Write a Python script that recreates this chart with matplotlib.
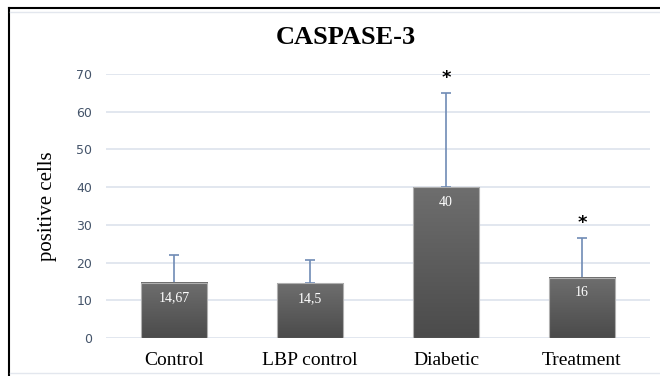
import numpy as np
import matplotlib.pyplot as plt
from matplotlib.lines import Line2D
from matplotlib.colors import LinearSegmentedColormap

# data
groups = ['Control', 'LBP control', 'Diabetic', 'Treatment']
means = [14.67, 14.5, 40, 16]
sd_up = [7.3, 6.3, 25, 10.5]
bar_labels = ['14,67', '14,5', '40', '16']
signif = ['', '', '*', '*']

fig = plt.figure(figsize=(6.6, 3.76), dpi=100)
ax = fig.add_axes([106/660, 1 - 338/376, (650-106)/660, (338-74)/376])

x = np.arange(len(groups))
cmap = LinearSegmentedColormap.from_list('g', ['#4b4b4b', '#6e6e6e'])
# gradient filled bars
for xi, m in zip(x, means):
    grad = np.linspace(0, 1, 100).reshape(-1, 1)
    ax.imshow(grad, extent=(xi - 0.245, xi + 0.245, 0, m), aspect='auto',
              cmap=cmap, origin='lower', zorder=2)
ax.bar(x, means, width=0.49, color='none', edgecolor='#b0b0b0', linewidth=0.8, zorder=3)
ax.errorbar(x, means, yerr=[np.zeros(len(means)), sd_up], fmt='none',
            ecolor='#6f8bb5', elinewidth=1.2, capsize=3.5, capthick=1.2, zorder=1)

for xi, m, lab in zip(x, means, bar_labels):
    ax.text(xi, m - 4, lab, ha='center', va='center', color='white',
            fontsize=10, family='Liberation Serif', zorder=4)
for xi, m, s, sg in zip(x, means, sd_up, signif):
    if sg:
        ax.text(xi, m + s + 1.6, sg, ha='center', va='bottom', fontsize=13,
                fontweight='bold', family='DejaVu Sans')

ax.set_xlim(-0.5, len(groups) - 0.5)
ax.set_ylim(0, 70)
ax.set_yticks(range(0, 71, 10))
ax.set_xticks(x)
ax.set_xticklabels(groups, family='Liberation Serif', fontsize=14)
ax.tick_params(axis='x', length=0, pad=10)
ax.tick_params(axis='y', length=0, labelsize=9, labelcolor='#44546a', pad=10)
ax.grid(axis='y', color='#dde3ec', linewidth=1.2, zorder=0)
ax.set_axisbelow(True)
for sp in ax.spines.values():
    sp.set_visible(False)
ax.set_ylabel('positive cells', family='Liberation Serif', fontsize=15, labelpad=14)

fig.text(346/660, 1 - 38/376, 'CASPASE-3', ha='center', va='center',
         family='Liberation Serif', fontsize=19, fontweight='bold')

# chart border
fig.add_artist(Line2D([9/660, 9/660], [0, 1 - 8/376], color='black', lw=1.5))
fig.add_artist(Line2D([9/660, 1], [1 - 8/376, 1 - 8/376], color='black', lw=1.5))
fig.add_artist(Line2D([10/660, 1], [1 - 12/376, 1 - 12/376], color='#e3e7ee', lw=1))
fig.add_artist(Line2D([10/660, 1], [1 - 373/376, 1 - 373/376], color='#e3e7ee', lw=1))

fig.savefig('out.png', dpi=100)
